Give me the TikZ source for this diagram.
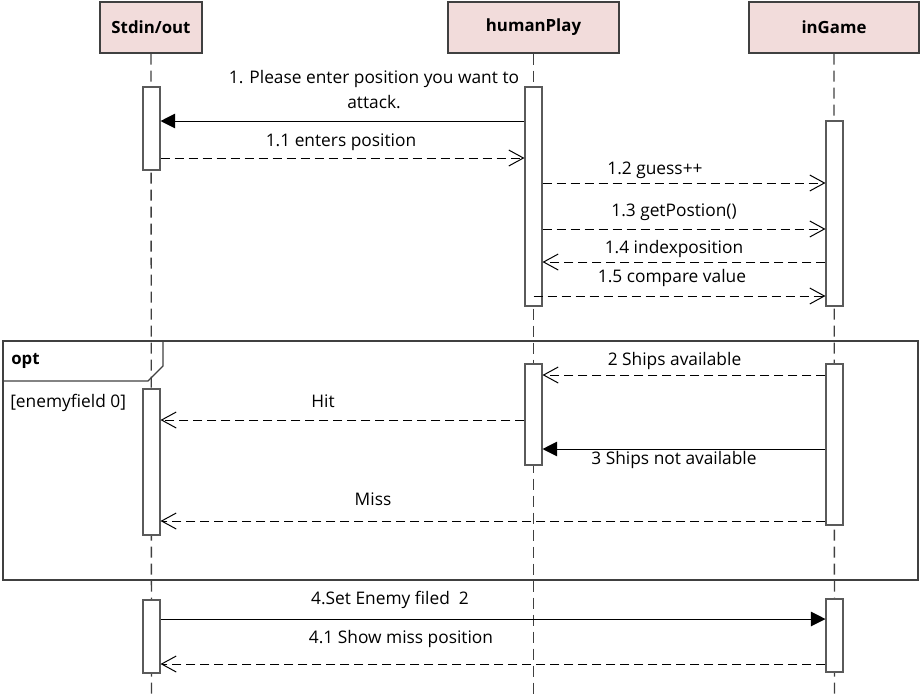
\documentclass[tikz,border=0pt]{standalone}
\usepackage{fontspec}
\setmainfont{Open Sans}
\usetikzlibrary{arrows.meta,fit}
\definecolor{headfill}{RGB}{242,220,219}
\definecolor{linegray}{RGB}{64,64,64}
\definecolor{actgray}{RGB}{90,90,90}
\begin{document}
\begin{tikzpicture}[x=0.75pt,y=-0.75pt,
  head/.style={draw=linegray, fill=headfill, line width=1.1pt, inner sep=0pt},
  headtxt/.style={font=\bfseries\fontsize{12.6}{14}\selectfont},
  lifeline/.style={draw=linegray, line width=1pt, dash pattern=on 8.25pt off 4.5pt},
  act/.style={draw=actgray, fill=white, line width=0.8pt, inner sep=0pt},
  sync/.style={draw=black, line width=0.75pt, -{Triangle[length=11pt,width=11pt]}},
  async/.style={draw=black, line width=0.75pt, dash pattern=on 6.75pt off 3.75pt, -{Straight Barb[length=11pt,width=12pt,line width=0.75pt]}},
  lbl/.style={font=\fontsize{13}{18.7}\selectfont, inner sep=0pt, align=center},
  frame/.style={draw=linegray, line width=1pt, inner sep=0pt},
]
\useasboundingbox (0,0) rectangle (921,694);
% heads
\node[head, fit={(100,2) (202,53)}, label={[headtxt]center:Stdin/out}] (sd) {};
\node[head, fit={(448,2) (619,53)}, label={[headtxt]center:humanPlay}] (hp) {};
\node[head, fit={(749,2) (919,53)}, label={[headtxt]center:inGame}] (ig) {};
% lifeline ends
\coordinate (sdEnd) at (151.5,694);
\coordinate (hpEnd) at (533.5,694);
\coordinate (igEnd) at (834.5,694);
% opt frame
\node[frame, fit={(3,341) (918,580)}] (opt) {};
\coordinate (optA) at (3,381);
\coordinate (optB) at (148,381);
\coordinate (optC) at (163,366);
\coordinate (optD) at (163,341);
\draw[frame] (optA) -- (optB) -- (optC) -- (optD);
\node[font=\bfseries\fontsize{12.6}{14}\selectfont, anchor=west, inner sep=0pt] (optT) at (11,361) {opt};
\node[lbl, anchor=west] (guard) at (10,403) {[enemyfield 0]};
% lifelines
\draw[lifeline] (sd.south) -- (sdEnd);
\draw[lifeline] (hp.south) -- (hpEnd);
\draw[lifeline] (ig.south) -- (igEnd);
% activations
\node[act, fit={(143,87) (160,170)}] (sd1) {};
\node[act, fit={(143,389) (160,535)}] (sd2) {};
\node[act, fit={(143,600) (160,673)}] (sd3) {};
\node[act, fit={(525,87) (542,306)}] (hp1) {};
\node[act, fit={(525,364) (542,465)}] (hp2) {};
\node[act, fit={(826,121) (843,306)}] (ig1) {};
\node[act, fit={(826,364) (843,525)}] (ig2) {};
\node[act, fit={(826,599) (843,672)}] (ig3) {};
% messages
\draw[sync] (hp1.west |- {(0,121)}) -- (sd1.east |- {(0,121)});
\node[lbl] (m1) at (374,89.5) {1. Please enter position you want to\\attack.};
\draw[async] (sd1.east |- {(0,158)}) -- (hp1.west |- {(0,158)});
\node[lbl] (m11) at (341,142) {1.1 enters position};
\draw[async] (hp1.east |- {(0,183)}) -- (ig1.west |- {(0,183)});
\node[lbl] (m12) at (655,170) {1.2 guess++};
\draw[async] (hp1.east |- {(0,229)}) -- (ig1.west |- {(0,229)});
\node[lbl] (m13) at (674,212) {1.3 getPostion()};
\draw[async] (ig1.west |- {(0,262)}) -- (hp1.east |- {(0,262)});
\node[lbl] (m14) at (674,248.5) {1.4 indexposition};
\draw[async] (hp1.center |- {(0,296)}) -- (ig1.west |- {(0,296)});
\node[lbl] (m15) at (672,278) {1.5 compare value};
\draw[async] (ig2.west |- {(0,375)}) -- (hp2.east |- {(0,375)});
\node[lbl] (m2) at (674.5,361) {2 Ships available};
\draw[async] (hp2.west |- {(0,420)}) -- (sd2.east |- {(0,420)});
\node[lbl] (mhit) at (323,401) {Hit};
\draw[sync] (ig2.west |- {(0,449)}) -- (hp2.east |- {(0,449)});
\node[lbl] (m3) at (674,460) {3 Ships not available};
\draw[async] (ig2.west |- {(0,521)}) -- (sd2.east |- {(0,521)});
\node[lbl] (mmiss) at (373,499) {Miss};
\draw[sync] (sd3.east |- {(0,619)}) -- (ig3.west |- {(0,619)});
\node[lbl] (m4) at (390,600) {4.Set Enemy filed\ \ 2};
\draw[async] (ig3.west |- {(0,664)}) -- (sd3.east |- {(0,664)});
\node[lbl] (m41) at (401,639) {4.1 Show miss position};
\end{tikzpicture}
\end{document}
